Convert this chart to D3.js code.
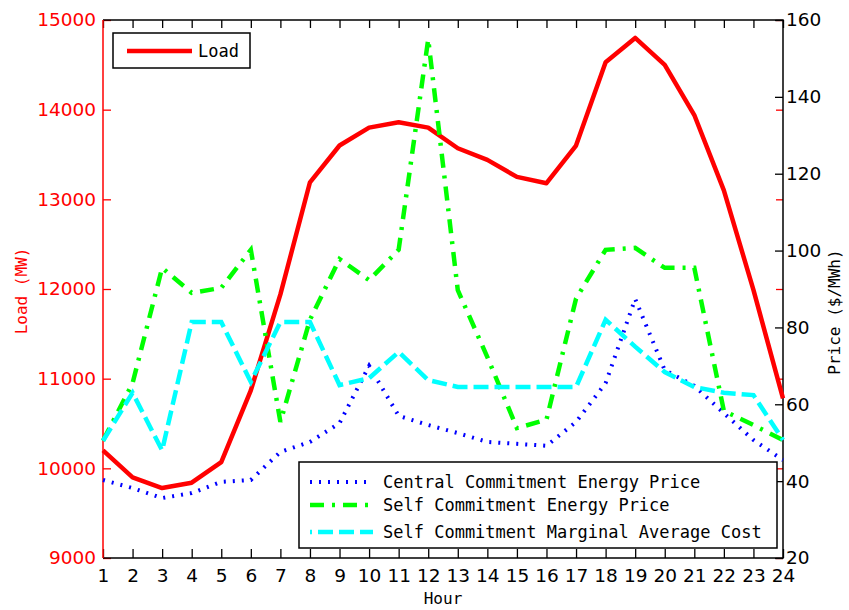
<!DOCTYPE html>
<html>
<head>
<meta charset="utf-8">
<script src="https://cdn.jsdelivr.net/npm/d3@7"></script>
<style>
  body { margin: 0; background: #fff; }
  svg { display: block; }
</style>
</head>
<body>
<div id="myChart"></div>
<script>
// chart data
let hours = [1, 2, 3, 4, 5, 6, 7, 8, 9, 10, 11, 12, 13, 14, 15, 16, 17, 18, 19, 20, 21, 22, 23, 24];
let loadMW = [10200, 9900, 9780, 9840, 10070, 10870, 11940, 13190, 13600, 13800, 13860, 13800,
              13570, 13440, 13250, 13180, 13600, 14530, 14800, 14500, 13940, 13100, 11990, 10780];
let centralPrice = [40.3, 38.2, 35.6, 36.9, 39.8, 40.3, 47.6, 50.2, 55.1, 70, 57, 54.6,
                    52.5, 50.2, 49.7, 49.2, 55.4, 65.5, 87.4, 68.9, 64.8, 57.7, 50.7, 45.5];
let selfPrice = [50.5, 65.5, 95.5, 89, 90.3, 100.2, 55.4, 82, 97.8, 92.3, 100.2, 155,
                 89.7, 72.3, 53.8, 56, 87.5, 100.2, 100.7, 95.5, 95.5, 58.3, 54.6, 50.7];
let selfMarginal = [50.5, 63, 48, 81.4, 81.4, 65.8, 81.4, 81.4, 65, 66.8, 73.6, 66.3,
                    64.5, 64.5, 64.5, 64.5, 64.5, 82, 75, 68.4, 64.5, 63, 62.4, 50.7];

let loadTicks = [9000, 10000, 11000, 12000, 13000, 14000, 15000];
let priceTicks = [20, 40, 60, 80, 100, 120, 140, 160];

let seriesNames = ["Central Commitment Energy Price", "Self Commitment Energy Price",
                   "Self Commitment Marginal Average Cost"];

// dimensions
let margin = {top: 20, right: 66, bottom: 52, left: 103},
    width = 849 - margin.left - margin.right,
    height = 610 - margin.top - margin.bottom;

let svg = d3.select("#myChart")
    .append("svg")
        .attr("width", 849)
        .attr("height", 610)
    .append("g")
        .attr("transform", "translate(" + margin.left + "," + margin.top + ")");

let x = d3.scaleLinear().domain([1, 24]).range([0, width]);
let yL = d3.scaleLinear().domain([9000, 15000]).range([height, 0]);
let yR = d3.scaleLinear().domain([20, 160]).range([height, 0]);

let tickFont = "DejaVu Sans, sans-serif";
let monoFont = "DejaVu Sans Mono, monospace";

function styleAxis(g, color) {
    g.select(".domain").remove();
    g.selectAll("line").attr("stroke", color).attr("stroke-width", 1.3);
    g.selectAll("text").attr("fill", color).style("font-family", tickFont).style("font-size", "18.5px");
}

// bottom axis (ticks pointing up)
svg.append("g")
    .attr("transform", "translate(0," + height + ")")
    .call(d3.axisBottom(x).tickValues(hours).tickSizeInner(-9).tickSizeOuter(0).tickPadding(11).tickFormat(d3.format("d")))
    .call(g => styleAxis(g, "#000"));

// top axis, ticks only
svg.append("g")
    .call(d3.axisTop(x).tickValues(hours).tickSizeInner(-8).tickSizeOuter(0).tickFormat(""))
    .call(g => styleAxis(g, "#000"));

// left axis (load)
svg.append("g")
    .call(d3.axisLeft(yL).tickValues(loadTicks).tickSizeInner(-8).tickSizeOuter(0).tickPadding(7).tickFormat(d3.format("d")))
    .call(g => styleAxis(g, "#ff0000"));

// load ticks repeated on the right side
svg.append("g")
    .attr("transform", "translate(" + width + ",0)")
    .call(d3.axisRight(yL).tickValues(loadTicks).tickSizeInner(-7).tickSizeOuter(0).tickFormat(""))
    .call(g => styleAxis(g, "#ff0000"));

// right axis (price)
svg.append("g")
    .attr("transform", "translate(" + width + ",0)")
    .call(d3.axisRight(yR).tickValues(priceTicks).tickSizeInner(-8).tickSizeOuter(0).tickPadding(3))
    .call(g => styleAxis(g, "#000"));

// frame
svg.append("path")
    .attr("d", "M0,0H" + width + "V" + height + "H0")
    .attr("fill", "none").attr("stroke", "#000").attr("stroke-width", 1.5);
svg.append("line")
    .attr("x1", 0).attr("x2", 0).attr("y1", 0).attr("y2", height)
    .attr("stroke", "#ff0000").attr("stroke-width", 1.5);

// axis titles
svg.append("text")
    .attr("transform", "translate(" + (-76) + "," + (yL(12000) + 2) + ") rotate(-90)")
    .attr("text-anchor", "middle")
    .attr("fill", "#ff0000")
    .style("font-family", monoFont).style("font-size", "16px")
    .text("Load (MW)");

svg.append("text")
    .attr("transform", "translate(" + (width + 57) + "," + (yR(84)) + ") rotate(-90)")
    .attr("text-anchor", "middle")
    .attr("fill", "#000")
    .style("font-family", monoFont).style("font-size", "16px")
    .text("Price ($/MWh)");

svg.append("text")
    .attr("x", width / 2)
    .attr("y", height + 46)
    .attr("text-anchor", "middle")
    .style("font-family", monoFont).style("font-size", "16px")
    .text("Hour");

// series lines
let styles = [
    {color: "#0000ff", dash: "2,7", w: 4},
    {color: "#00ff00", dash: "14,8,3,8", w: 4.5},
    {color: "#00ffff", dash: "15,6", w: 4.5}
];

let loadLine = d3.line()
    .x((d, i) => x(hours[i]))
    .y(d => yL(d));
let priceLine = d3.line()
    .x((d, i) => x(hours[i]))
    .y(d => yR(d));

svg.append("path")
    .datum(loadMW)
    .attr("d", loadLine)
    .attr("fill", "none")
    .attr("stroke", "#ff0000")
    .attr("stroke-width", 4.5)
    .attr("stroke-linejoin", "round");

[centralPrice, selfPrice, selfMarginal].forEach(function(s, i) {
    svg.append("path")
        .datum(s)
        .attr("d", priceLine)
        .attr("fill", "none")
        .attr("stroke", styles[i].color)
        .attr("stroke-width", styles[i].w)
        .attr("stroke-dasharray", styles[i].dash);
});

// legend for load
let leg1 = svg.append("g").attr("transform", "translate(10,13)");
leg1.append("rect")
    .attr("width", 137).attr("height", 35)
    .attr("fill", "#fff").attr("stroke", "#000").attr("stroke-width", 1.5);
leg1.append("line")
    .attr("x1", 14).attr("x2", 79).attr("y1", 18).attr("y2", 18)
    .attr("stroke", "#ff0000").attr("stroke-width", 4.5);
leg1.append("text")
    .attr("x", 85).attr("y", 18).attr("dy", "0.35em")
    .style("font-family", monoFont).style("font-size", "17px")
    .text("Load");

// legend for prices
let leg2 = svg.append("g").attr("transform", "translate(196,442)");
leg2.append("rect")
    .attr("width", 478).attr("height", 86)
    .attr("fill", "#fff").attr("stroke", "#000").attr("stroke-width", 1.5);
seriesNames.forEach(function(name, i) {
    let yy = [20, 43, 70][i];
    leg2.append("line")
        .attr("x1", 11).attr("x2", 74).attr("y1", yy).attr("y2", yy)
        .attr("stroke", styles[i].color)
        .attr("stroke-width", styles[i].w)
        .attr("stroke-dasharray", styles[i].dash)
        .attr("stroke-dashoffset", i == 2 ? 13 : 0);
    leg2.append("text")
        .attr("x", 84).attr("y", yy).attr("dy", "0.35em")
        .style("font-family", monoFont).style("font-size", "17px")
        .text(name);
});
</script>
</body>
</html>
